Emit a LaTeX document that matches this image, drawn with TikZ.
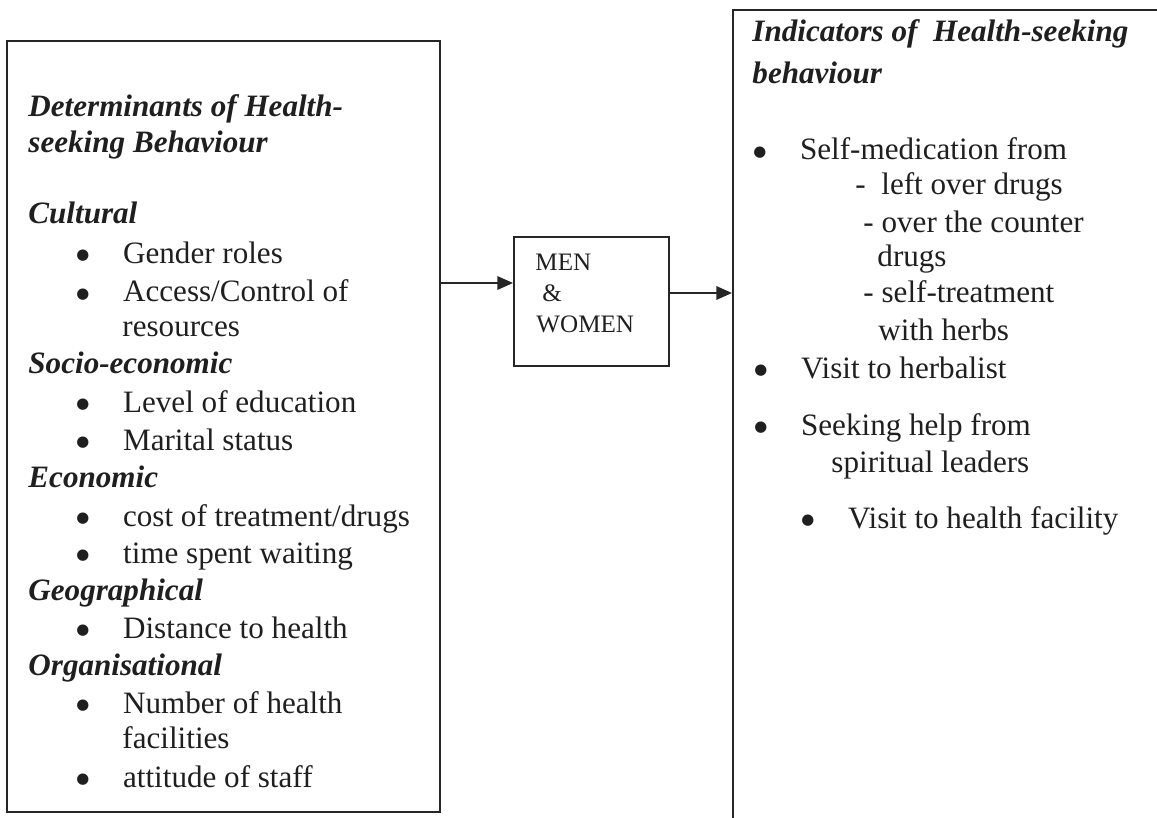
\documentclass[tikz,border=0pt]{standalone}
\usepackage{fontspec}
\setmainfont{Liberation Serif}
\newfontfamily\dotfont{DejaVu Sans}
\usepackage{tikz}
\usetikzlibrary{arrows.meta,positioning,fit}

\newcommand\blt{\makebox[21pt][l]{\raisebox{1.4pt}{\dotfont\fontsize{6.7}{7}\selectfont ●}}}

\begin{document}
\begin{tikzpicture}[
    x=0.45pt, y=-0.45pt,
    frame/.style={rectangle, draw=black!85, line width=0.9pt, inner sep=0pt},
    txt/.style={anchor=base west, inner sep=0pt, text=black!88, font=\fontsize{14}{16}\selectfont},
    head/.style={txt, font=\fontsize{14}{16}\selectfont\bfseries\itshape},
    small/.style={txt, font=\fontsize{11.3}{13}\selectfont},
    arrow/.style={-{Triangle[length=7pt,width=6pt]}, line width=0.9pt, draw=black!85}
]

\useasboundingbox (0,0) rectangle (1157,818);
\clip (0,0) rectangle (1157,818);

% Boxes
\node[frame, fit={(7,41) (440,812)}] (detbox) {};
\node[frame, fit={(514,237) (669,366)}] (men) {};
\node[frame, fit={(733,10) (1200,860)}] (indbox) {};

% Determinants
\node[head] (dethead1) at (28,117) {Determinants of Health-};
\node[head] (dethead2) at (28,153) {seeking Behaviour};
\node[head] (cult) at (28,224) {Cultural};
\node[txt] (cult1) at (76,263) {\blt Gender roles};
\node[txt] (cult2) at (76,302) {\blt Access/Control of};
\node[txt] (cult2b) at (122,337) {resources};
\node[head] (socio) at (28,373) {Socio-economic};
\node[txt] (socio1) at (76,412) {\blt Level of education};
\node[txt] (socio2) at (76,450) {\blt Marital status};
\node[head] (econ) at (28,487) {Economic};
\node[txt] (econ1) at (76,526) {\blt cost of treatment/drugs};
\node[txt] (econ2) at (76,563) {\blt time spent waiting};
\node[head] (geo) at (28,600) {Geographical};
\node[txt] (geo1) at (76,638) {\blt Distance to health};
\node[head] (org) at (28,675) {Organisational};
\node[txt] (org1) at (76,713) {\blt Number of health};
\node[txt] (org1b) at (122,748) {facilities};
\node[txt] (org2) at (76,787) {\blt attitude of staff};

% Men & women
\node[small] (men1) at (535,271) {MEN};
\node[small] (men2) at (542,302) {\&};
\node[small] (men3) at (536,332) {WOMEN};

% Indicators
\node[head] (indhead1) at (752,42) {Indicators of\ \ Health-seeking};
\node[head] (indhead2) at (752,84) {behaviour};
\node[txt] (self) at (753,160) {\blt Self-medication from};
\node[txt] (self1) at (855,195) {-\ \ left over drugs};
\node[txt] (self2) at (863,232) {- over the counter};
\node[txt] (self2b) at (877,267) {drugs};
\node[txt] (self3) at (863,303) {- self-treatment};
\node[txt] (self3b) at (878,340) {with herbs};
\node[txt] (herb) at (754,378) {\blt Visit to herbalist};
\node[txt] (spirit) at (754,435) {\blt Seeking help from};
\node[txt] (spiritb) at (831,472) {spiritual leaders};
\node[txt] (facil) at (801,528) {\blt Visit to health facility};

% Arrows
\coordinate (inY) at (0,283);
\coordinate (outY) at (0,293);
\draw[arrow] (detbox.east |- inY) -- (men.west |- inY);
\draw[arrow] (men.east |- outY) -- (indbox.west |- outY);

\end{tikzpicture}
\end{document}
